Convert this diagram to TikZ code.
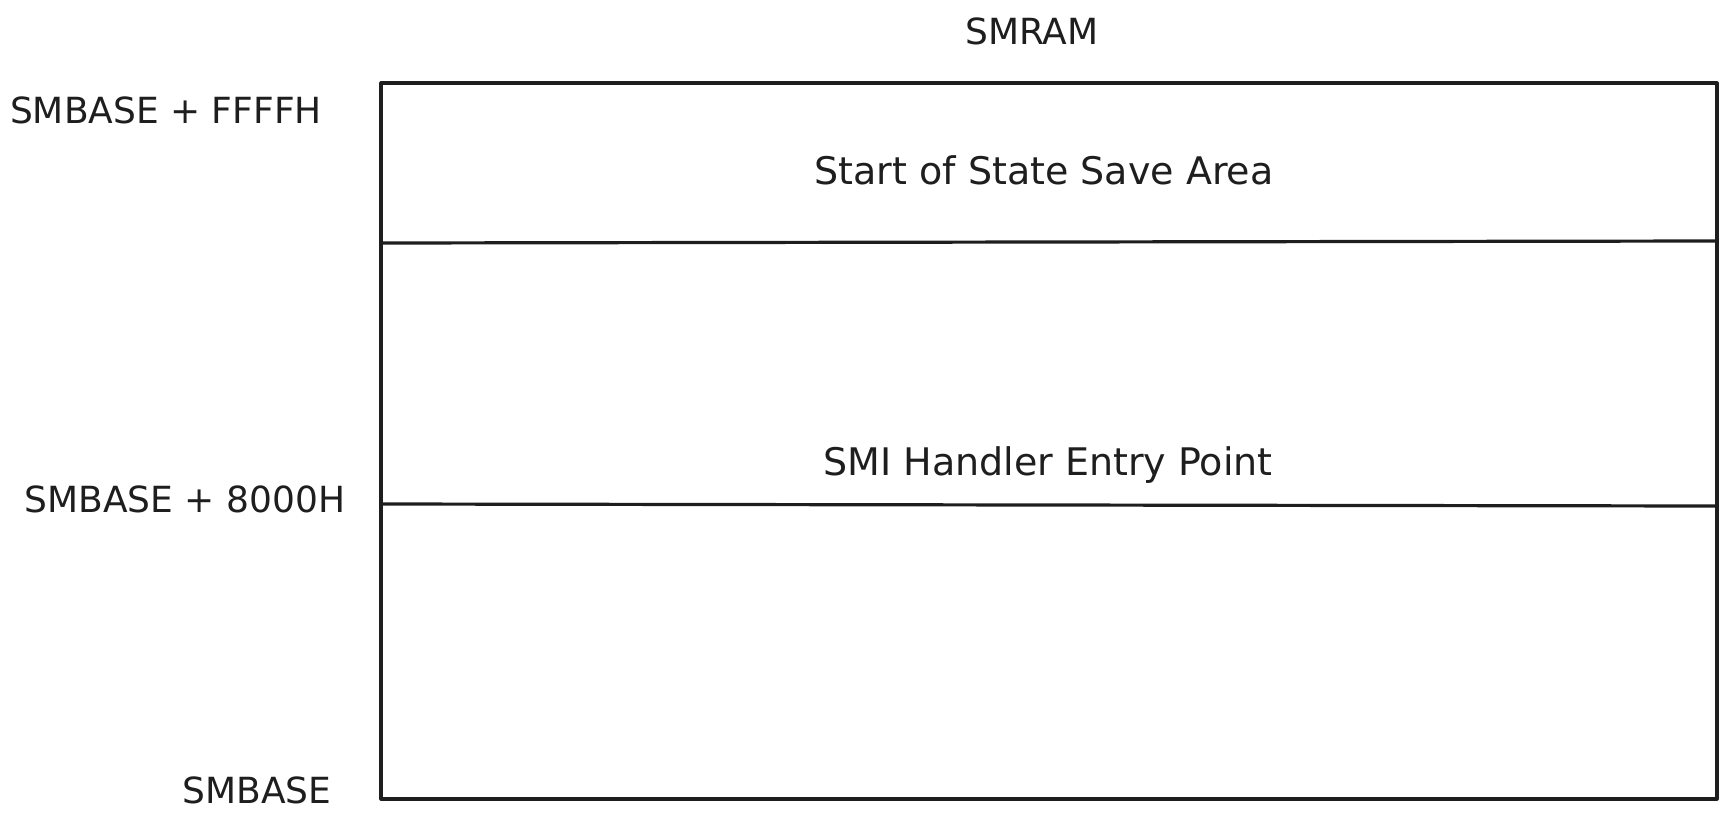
\documentclass[tikz,border=0pt]{standalone}
\usepackage{fontspec}
\setmainfont{DejaVu Sans}
\usetikzlibrary{positioning}

\definecolor{ink}{HTML}{1E1E1E}

\begin{document}
\begin{tikzpicture}[
  x=1pt, y=-1pt,
  label/.style={anchor=base, inner sep=0pt, text=ink, font=\fontsize{36}{40}\selectfont},
  inside/.style={label, font=\fontsize{38}{42}\selectfont},
  wall/.style={draw=ink, line width=3.2pt, line cap=round, line join=round}
]
\useasboundingbox (0,0) rectangle (1729,825);
% SMRAM region
\coordinate (topleft) at (381,83);
\coordinate (topright) at (1717,83);
\coordinate (botleft) at (381,799);
\coordinate (botright) at (1717,799);
\coordinate (saveleft) at (381,243);
\coordinate (saveright) at (1717,241);
\coordinate (entryleft) at (381,504);
\coordinate (entryright) at (1717,506);
\draw[wall] (topleft) rectangle (botright);
\draw[wall] (saveleft) -- (saveright);
\draw[wall] (entryleft) -- (entryright);
% texts
\node[label] (smram) at (1032,44) {SMRAM};
\node[inside] (savearea) at (1044,184) {Start of State Save Area};
\node[inside] (entry) at (1048,475) {SMI Handler Entry Point};
\node[label] (top) at (166,123) {SMBASE + FFFFH};
\node[label] (mid) at (185,512) {SMBASE + 8000H};
\node[label] (base) at (257,803) {SMBASE};
\end{tikzpicture}
\end{document}
